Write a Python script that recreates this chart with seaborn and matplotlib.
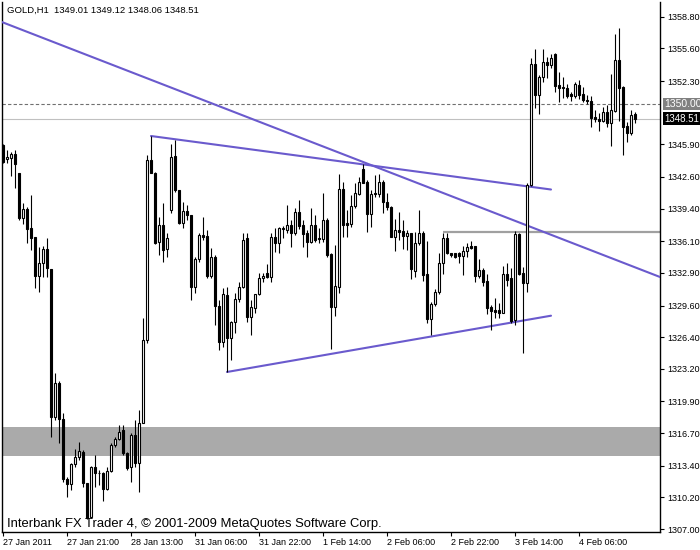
import matplotlib
matplotlib.use("Agg")
import matplotlib.pyplot as plt
import matplotlib.transforms as mtransforms
import seaborn as sns
import numpy as np
import pandas as pd

sns.set_theme(style="white")
plt.rcParams['font.family'] = ['Liberation Sans', 'DejaVu Sans']

# ---------------- data (GOLD, H1) ----------------
opens = [
    1345.83, 1344.41, 1344.51, 1344.92, 1343.00, 1338.45, 1339.36, 1337.44, 1336.53, 1332.58,
    1333.90, 1335.31, 1333.29, 1318.33, 1321.76, 1318.12, 1312.06, 1311.55, 1313.57, 1314.28,
    1314.79, 1311.65, 1308.22, 1313.27, 1312.66, 1312.66, 1311.05, 1312.87, 1315.50, 1316.10,
    1317.01, 1314.69, 1313.27, 1316.51, 1313.68, 1317.72, 1326.11, 1344.31, 1343.00, 1336.02,
    1337.74, 1335.31, 1339.26, 1344.72, 1341.28, 1337.94, 1339.16, 1338.75, 1331.47, 1334.30,
    1336.73, 1336.63, 1332.58, 1334.50, 1329.55, 1325.91, 1330.66, 1326.31, 1327.93, 1330.26,
    1331.47, 1336.43, 1328.44, 1329.35, 1330.76, 1332.38, 1332.89, 1332.48, 1336.53, 1335.92,
    1337.34, 1337.23, 1337.74, 1336.93, 1339.05, 1337.74, 1336.93, 1336.02, 1337.74, 1336.43,
    1336.33, 1338.25, 1334.81, 1329.45, 1331.47, 1341.38, 1337.94, 1337.84, 1339.66, 1340.87,
    1343.40, 1342.09, 1338.85, 1340.98, 1340.87, 1342.09, 1340.07, 1339.56, 1336.53, 1337.23,
    1337.13, 1336.63, 1336.93, 1333.09, 1335.92, 1336.93, 1332.79, 1328.24, 1329.75, 1330.97,
    1333.90, 1336.43, 1334.91, 1334.91, 1334.91, 1334.61, 1335.11, 1335.62, 1335.62, 1332.58,
    1333.19, 1332.08, 1329.45, 1329.15, 1329.15, 1328.84, 1332.79, 1332.38, 1328.13, 1336.83,
    1332.89, 1331.88, 1341.78, 1354.02, 1350.88, 1352.70, 1354.22, 1353.92, 1355.03, 1351.90,
    1351.69, 1351.59, 1350.99, 1350.78, 1351.90, 1350.99, 1350.38, 1350.28, 1348.66, 1348.46,
    1348.26, 1349.17, 1348.05, 1349.27, 1354.42, 1351.69, 1347.75, 1347.04, 1349.01]

highs = [
    1345.93, 1345.32, 1345.12, 1345.32, 1343.00, 1339.96, 1339.56, 1340.77, 1336.53, 1335.52,
    1335.62, 1336.43, 1333.29, 1322.78, 1321.97, 1318.73, 1312.26, 1313.68, 1315.09, 1315.80,
    1314.99, 1311.65, 1313.37, 1314.48, 1312.97, 1312.77, 1313.27, 1315.70, 1316.30, 1317.52,
    1317.52, 1314.79, 1316.71, 1318.02, 1319.03, 1328.34, 1344.82, 1346.74, 1343.10, 1338.55,
    1339.96, 1336.93, 1345.93, 1346.33, 1341.28, 1340.07, 1339.76, 1338.75, 1334.50, 1336.93,
    1338.55, 1337.23, 1335.41, 1334.71, 1330.16, 1331.37, 1331.47, 1328.03, 1330.86, 1331.98,
    1336.93, 1336.93, 1330.16, 1330.76, 1332.89, 1332.89, 1333.80, 1336.93, 1337.44, 1337.54,
    1337.64, 1339.76, 1338.25, 1339.46, 1340.27, 1338.25, 1337.23, 1339.46, 1338.75, 1337.44,
    1340.98, 1338.45, 1334.91, 1335.72, 1342.90, 1342.09, 1339.26, 1340.77, 1341.99, 1342.59,
    1343.91, 1342.29, 1341.28, 1342.80, 1342.90, 1342.29, 1340.98, 1339.66, 1338.35, 1339.05,
    1338.25, 1337.23, 1336.93, 1337.03, 1339.26, 1337.13, 1336.12, 1329.95, 1331.27, 1334.91,
    1336.93, 1336.93, 1334.91, 1334.91, 1335.01, 1335.62, 1335.92, 1336.12, 1335.62, 1334.30,
    1333.39, 1332.79, 1329.65, 1330.36, 1329.85, 1333.59, 1333.90, 1333.39, 1337.13, 1336.93,
    1333.49, 1341.99, 1354.63, 1355.54, 1352.91, 1355.54, 1354.73, 1355.03, 1355.13, 1353.21,
    1352.70, 1352.00, 1351.19, 1352.20, 1352.40, 1351.69, 1350.88, 1350.78, 1349.37, 1349.06,
    1349.67, 1349.87, 1353.01, 1357.05, 1357.66, 1351.79, 1348.15, 1349.37, 1349.12]

lows = [
    1344.01, 1344.01, 1342.69, 1341.48, 1338.25, 1337.84, 1335.92, 1335.21, 1331.37, 1330.97,
    1332.48, 1332.48, 1316.30, 1318.02, 1315.70, 1311.75, 1310.24, 1310.95, 1313.27, 1313.98,
    1311.25, 1308.01, 1308.11, 1311.25, 1311.45, 1309.83, 1310.95, 1312.77, 1315.29, 1316.00,
    1314.48, 1312.97, 1311.75, 1313.27, 1310.74, 1317.72, 1325.81, 1343.00, 1335.82, 1334.71,
    1334.00, 1334.50, 1338.95, 1341.08, 1337.84, 1337.44, 1338.25, 1330.16, 1330.86, 1334.00,
    1336.22, 1332.38, 1332.38, 1327.63, 1325.10, 1325.40, 1322.88, 1324.09, 1326.82, 1329.95,
    1331.37, 1327.93, 1326.62, 1328.84, 1330.66, 1331.98, 1332.38, 1331.98, 1335.01, 1334.91,
    1336.43, 1336.93, 1335.52, 1336.73, 1337.34, 1335.52, 1334.50, 1335.92, 1336.02, 1335.92,
    1336.02, 1334.50, 1325.20, 1328.54, 1330.86, 1336.53, 1336.53, 1337.54, 1339.46, 1340.77,
    1341.99, 1337.03, 1337.54, 1340.57, 1340.57, 1338.95, 1339.26, 1336.53, 1335.11, 1336.22,
    1335.31, 1335.21, 1332.28, 1332.48, 1335.72, 1332.08, 1327.83, 1326.62, 1329.55, 1330.76,
    1332.79, 1334.81, 1334.50, 1334.40, 1333.90, 1332.68, 1334.50, 1335.31, 1331.98, 1332.38,
    1331.57, 1328.74, 1327.12, 1328.34, 1328.34, 1328.84, 1331.57, 1327.83, 1327.63, 1332.68,
    1324.80, 1330.97, 1341.68, 1349.57, 1348.96, 1352.20, 1352.60, 1353.61, 1351.19, 1350.18,
    1350.58, 1350.58, 1350.28, 1350.58, 1350.48, 1350.18, 1349.97, 1347.65, 1348.15, 1347.24,
    1348.15, 1347.65, 1345.73, 1349.17, 1348.26, 1344.82, 1346.13, 1346.84, 1348.06]

closes = [
    1344.11, 1344.62, 1344.92, 1343.91, 1338.45, 1339.36, 1337.34, 1336.43, 1332.58, 1333.90,
    1335.31, 1333.39, 1318.33, 1321.76, 1318.12, 1312.06, 1311.55, 1313.57, 1314.28, 1314.89,
    1311.65, 1308.11, 1313.27, 1312.66, 1312.62, 1311.05, 1312.87, 1315.50, 1316.10, 1316.81,
    1314.69, 1313.17, 1316.51, 1313.68, 1317.72, 1326.11, 1344.31, 1343.00, 1335.92, 1337.74,
    1335.21, 1336.43, 1344.62, 1341.28, 1337.94, 1339.16, 1338.75, 1331.47, 1334.30, 1336.73,
    1336.53, 1332.58, 1334.50, 1329.55, 1325.91, 1330.76, 1326.31, 1327.93, 1330.26, 1331.47,
    1336.22, 1328.44, 1329.45, 1330.76, 1332.38, 1332.58, 1332.48, 1336.53, 1335.92, 1337.44,
    1337.44, 1337.74, 1336.93, 1339.05, 1337.64, 1336.83, 1336.02, 1337.74, 1336.22, 1336.33,
    1338.25, 1334.71, 1329.45, 1331.57, 1341.38, 1337.74, 1337.74, 1339.66, 1340.98, 1342.09,
    1341.99, 1338.85, 1340.87, 1340.87, 1342.09, 1340.07, 1339.56, 1336.53, 1337.23, 1337.03,
    1336.63, 1336.93, 1333.29, 1335.92, 1336.93, 1332.68, 1328.24, 1329.75, 1330.97, 1333.90,
    1336.43, 1334.91, 1334.71, 1334.50, 1334.61, 1335.11, 1335.52, 1335.41, 1332.58, 1333.19,
    1331.98, 1329.35, 1329.04, 1328.94, 1328.84, 1332.79, 1332.18, 1328.03, 1336.83, 1332.79,
    1331.88, 1341.78, 1354.02, 1350.88, 1352.70, 1354.22, 1353.92, 1354.63, 1351.79, 1351.59,
    1351.59, 1350.78, 1350.78, 1352.00, 1350.88, 1350.38, 1350.28, 1348.56, 1348.46, 1348.26,
    1349.17, 1348.05, 1349.37, 1354.42, 1351.59, 1347.65, 1347.04, 1348.86, 1348.51]

time_labels = ["27 Jan 2011", "27 Jan 21:00", "28 Jan 13:00", "31 Jan 06:00",
               "31 Jan 22:00", "1 Feb 14:00", "2 Feb 06:00", "2 Feb 22:00",
               "3 Feb 14:00", "4 Feb 06:00"]
time_label_bars = [0, 16, 32, 48, 64, 80, 96, 112, 128, 144]

price_ticks = [1358.80, 1355.60, 1352.30, 1345.90, 1342.60, 1339.40, 1336.10,
               1332.90, 1329.60, 1326.40, 1323.20, 1319.90, 1316.70, 1313.40,
               1310.20, 1307.00]

# drawn objects (bar index, price)
trend_long = ([0, 160], [1358.22, 1333.15])        # ray, extends both ways
trend_upper = ([37, 137], [1346.74, 1341.33])
trend_lower = ([56, 137], [1322.88, 1328.57])
resist_start_bar = 110
resist_level = 1337.03
zone_low, zone_high = 1314.41, 1317.35
ask_level = 1350.00
bid_level = 1348.51

title_text = "GOLD,H1  1349.01 1349.12 1348.06 1348.51"
copyright_text = "Interbank FX Trader 4, \u00a9 2001-2009 MetaQuotes Software Corp."

# ---------------- figure ----------------
df = pd.DataFrame({"open": opens, "high": highs, "low": lows, "close": closes})
df["bar"] = np.arange(len(df))

W, H = 700, 550
fig = plt.figure(figsize=(W / 100, H / 100), dpi=100)
fig.patch.set_facecolor("white")
ax = fig.add_axes([2 / W, 18 / H, 658 / W, 530 / H])
ax.set_facecolor("white")
ax.set_xlim(-0.25, 164.25)
ax.set_ylim(1306.70, 1360.29)

purple = "#6A5ACD"

# zone
ax.axhspan(zone_low, zone_high, color="#AAAAAA", lw=0, zorder=1)

# horizontal lines
ax.axhline(ask_level, color="#707070", lw=0.8, ls=(0, (3, 2)), zorder=2)
ax.axhline(bid_level, color="#C0C0C0", lw=0.8, zorder=2)
ax.plot([resist_start_bar, 200], [resist_level, resist_level], color="#A0A0A0",
        lw=1.6, zorder=2, solid_capstyle="butt")

# trend lines
x0, x1 = trend_long[0]
y0, y1 = trend_long[1]
slope = (y1 - y0) / (x1 - x0)
xs = np.array([-5, 170])
sns.lineplot(x=xs, y=y0 + slope * (xs - x0), ax=ax, color=purple, lw=1.5,
             sort=False, zorder=3)
sns.lineplot(x=trend_upper[0], y=trend_upper[1], ax=ax, color=purple, lw=1.5,
             sort=False, zorder=3)
sns.lineplot(x=trend_lower[0], y=trend_lower[1], ax=ax, color=purple, lw=1.5,
             sort=False, zorder=3)

# candles
ax.vlines(df["bar"], df["low"], df["high"], color="black", lw=0.8, zorder=4)
body_bottom = np.minimum(df["open"], df["close"])
body_h = np.maximum(np.abs(df["close"] - df["open"]), 0.04)
face = np.where(df["close"] < df["open"], "black", "white")
ax.bar(df["bar"], body_h, bottom=body_bottom, width=0.5, color=face,
       edgecolor="black", linewidth=0.8, zorder=5)

# axes styling
ax.grid(False)
for s in ["left", "bottom", "right"]:
    ax.spines[s].set_visible(True)
    ax.spines[s].set_color("black")
    ax.spines[s].set_linewidth(1.0)
ax.spines["top"].set_visible(False)

ax.yaxis.tick_right()
ax.set_yticks(price_ticks)
ax.set_yticklabels([f"{v:.2f}" for v in price_ticks])
ax.tick_params(axis="y", which="both", right=True, left=False, direction="out",
               length=3, width=0.8, pad=2, labelsize=6.5, colors="black")

ax.set_xticks(time_label_bars)
ax.set_xticklabels(time_labels)
ax.tick_params(axis="x", which="both", bottom=True, direction="out",
               length=3, width=0.8, pad=1, labelsize=6.5, colors="black")
for lab in ax.get_xticklabels():
    lab.set_horizontalalignment("left")
ax.set_xlabel("")
ax.set_ylabel("")

# price labels on the right scale
trans = mtransforms.blended_transform_factory(ax.transAxes, ax.transData)
ax.text(1.0 + 4 / 658, ask_level, f"{ask_level:.2f}", transform=trans,
        ha="left", va="center", fontsize=7.5, color="white", clip_on=False,
        bbox=dict(boxstyle="square,pad=0.12", fc="#808080", ec="none"), zorder=10)
ax.text(1.0 + 4 / 658, bid_level, f"{bid_level:.2f}", transform=trans,
        ha="left", va="center", fontsize=7, color="white", clip_on=False,
        bbox=dict(boxstyle="square,pad=0.15", fc="black", ec="none"), zorder=10)

# texts
fig.text(7 / W, 1 - 10 / H, title_text, ha="left", va="center",
         fontsize=6.8, color="black")
fig.text(7 / W, 1 - 524 / H, copyright_text, ha="left", va="center",
         fontsize=9.4, color="black")

fig.savefig("out.png", dpi=100, facecolor="white")
